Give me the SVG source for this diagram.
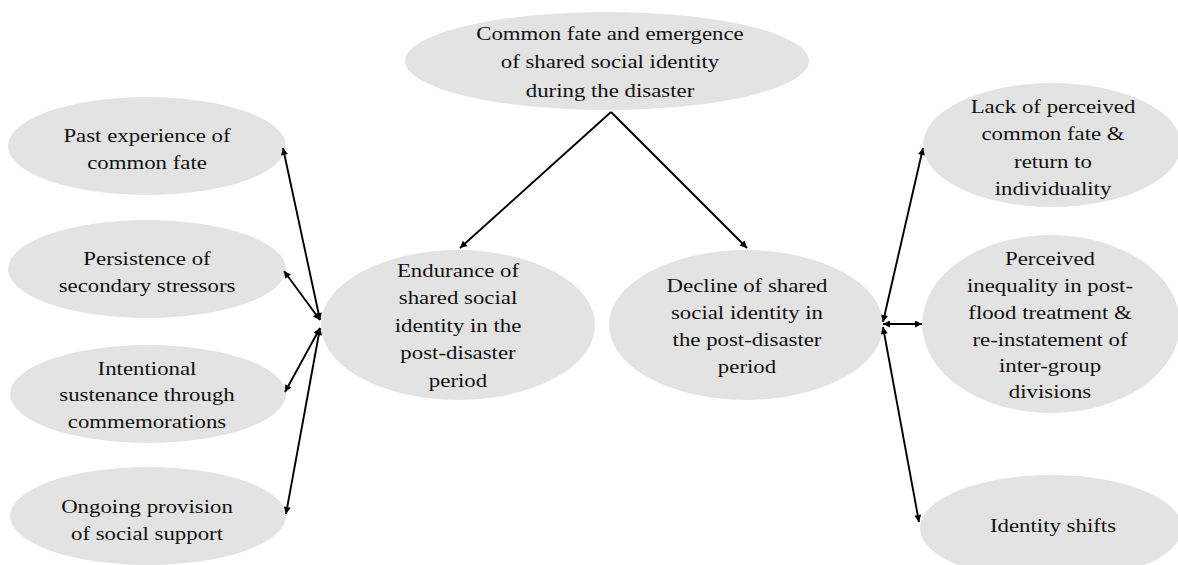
<svg xmlns="http://www.w3.org/2000/svg" width="1178" height="565" viewBox="0 0 1178 565">
<style>
.node{fill:#e3e3e3;}
.lbl{font-family:"Liberation Serif","Times New Roman",serif;font-size:19.5px;fill:#111;text-anchor:middle;}
.edge{stroke:#000;stroke-width:1.9;fill:none;}
</style>
<defs>
<marker id="ah" viewBox="0 0 10 10" refX="10" refY="5" markerWidth="8" markerHeight="7" markerUnits="userSpaceOnUse" orient="auto-start-reverse">
<path d="M0,0 L10,5 L0,10 z" fill="#000"/>
</marker>
</defs>
<rect width="1178" height="565" fill="#fff"/>

<g id="n-top">
<ellipse class="node" cx="607" cy="61" rx="202" ry="49"/>
<text class="lbl" transform="translate(610,40) scale(1.17,1)"><tspan x="0">Common fate and emergence</tspan><tspan x="0" dy="28.5">of shared social identity</tspan><tspan x="0" dy="28.5">during the disaster</tspan></text>
</g>

<g id="n-past">
<ellipse class="node" cx="147" cy="146" rx="139" ry="49"/>
<text class="lbl" transform="translate(147,142) scale(1.17,1)"><tspan x="0">Past experience of</tspan><tspan x="0" dy="27">common fate</tspan></text>
</g>

<g id="n-persist">
<ellipse class="node" cx="147" cy="269" rx="139" ry="49"/>
<text class="lbl" transform="translate(147,265) scale(1.17,1)"><tspan x="0">Persistence of</tspan><tspan x="0" dy="27">secondary stressors</tspan></text>
</g>

<g id="n-intent">
<ellipse class="node" cx="148" cy="394" rx="138" ry="49"/>
<text class="lbl" transform="translate(147,375) scale(1.17,1)"><tspan x="0">Intentional</tspan><tspan x="0" dy="26.5">sustenance through</tspan><tspan x="0" dy="26.5">commemorations</tspan></text>
</g>

<g id="n-ongoing">
<ellipse class="node" cx="148" cy="516" rx="138" ry="49"/>
<text class="lbl" transform="translate(147,513) scale(1.17,1)"><tspan x="0">Ongoing provision</tspan><tspan x="0" dy="27">of social support</tspan></text>
</g>

<g id="n-endurance">
<ellipse class="node" cx="458" cy="325" rx="137" ry="75"/>
<text class="lbl" transform="translate(458,277) scale(1.17,1)"><tspan x="0">Endurance of</tspan><tspan x="0" dy="27.5">shared social</tspan><tspan x="0" dy="27.5">identity in the</tspan><tspan x="0" dy="27.5">post-disaster</tspan><tspan x="0" dy="27.5">period</tspan></text>
</g>

<g id="n-decline">
<ellipse class="node" cx="746" cy="325" rx="137" ry="75"/>
<text class="lbl" transform="translate(747,292) scale(1.17,1)"><tspan x="0">Decline of shared</tspan><tspan x="0" dy="27">social identity in</tspan><tspan x="0" dy="27">the post-disaster</tspan><tspan x="0" dy="27">period</tspan></text>
</g>

<g id="n-lack">
<ellipse class="node" cx="1052" cy="145" rx="129" ry="62"/>
<text class="lbl" transform="translate(1053,113) scale(1.17,1)"><tspan x="0">Lack of perceived</tspan><tspan x="0" dy="27.5">common fate &amp;</tspan><tspan x="0" dy="27.5">return to</tspan><tspan x="0" dy="27">individuality</tspan></text>
</g>

<g id="n-perceived">
<ellipse class="node" cx="1051" cy="324" rx="129" ry="89"/>
<text class="lbl" transform="translate(1050,265) scale(1.17,1)"><tspan x="0">Perceived</tspan><tspan x="0" dy="27">inequality in post-</tspan><tspan x="0" dy="27">flood treatment &amp;</tspan><tspan x="0" dy="27">re-instatement of</tspan><tspan x="0" dy="26.5">inter-group</tspan><tspan x="0" dy="26">divisions</tspan></text>
</g>

<g id="n-identity">
<ellipse class="node" cx="1051" cy="528" rx="131" ry="53"/>
<text class="lbl" transform="translate(1053,532) scale(1.17,1)"><tspan x="0">Identity shifts</tspan></text>
</g>

<g id="connectors">
<line class="edge" x1="611" y1="112" x2="460" y2="248" marker-end="url(#ah)"/>
<line class="edge" x1="611" y1="112" x2="747" y2="248" marker-end="url(#ah)"/>
<line class="edge" x1="320" y1="320" x2="283" y2="148" marker-start="url(#ah)" marker-end="url(#ah)"/>
<line class="edge" x1="320" y1="320" x2="284" y2="271" marker-start="url(#ah)" marker-end="url(#ah)"/>
<line class="edge" x1="320" y1="328" x2="285" y2="392" marker-start="url(#ah)" marker-end="url(#ah)"/>
<line class="edge" x1="320" y1="328" x2="286" y2="514" marker-start="url(#ah)" marker-end="url(#ah)"/>
<line class="edge" x1="883" y1="322" x2="923" y2="148" marker-start="url(#ah)" marker-end="url(#ah)"/>
<line class="edge" x1="883" y1="324" x2="922" y2="324" marker-start="url(#ah)" marker-end="url(#ah)"/>
<line class="edge" x1="883" y1="327" x2="919" y2="522" marker-start="url(#ah)" marker-end="url(#ah)"/>
</g>
</svg>
